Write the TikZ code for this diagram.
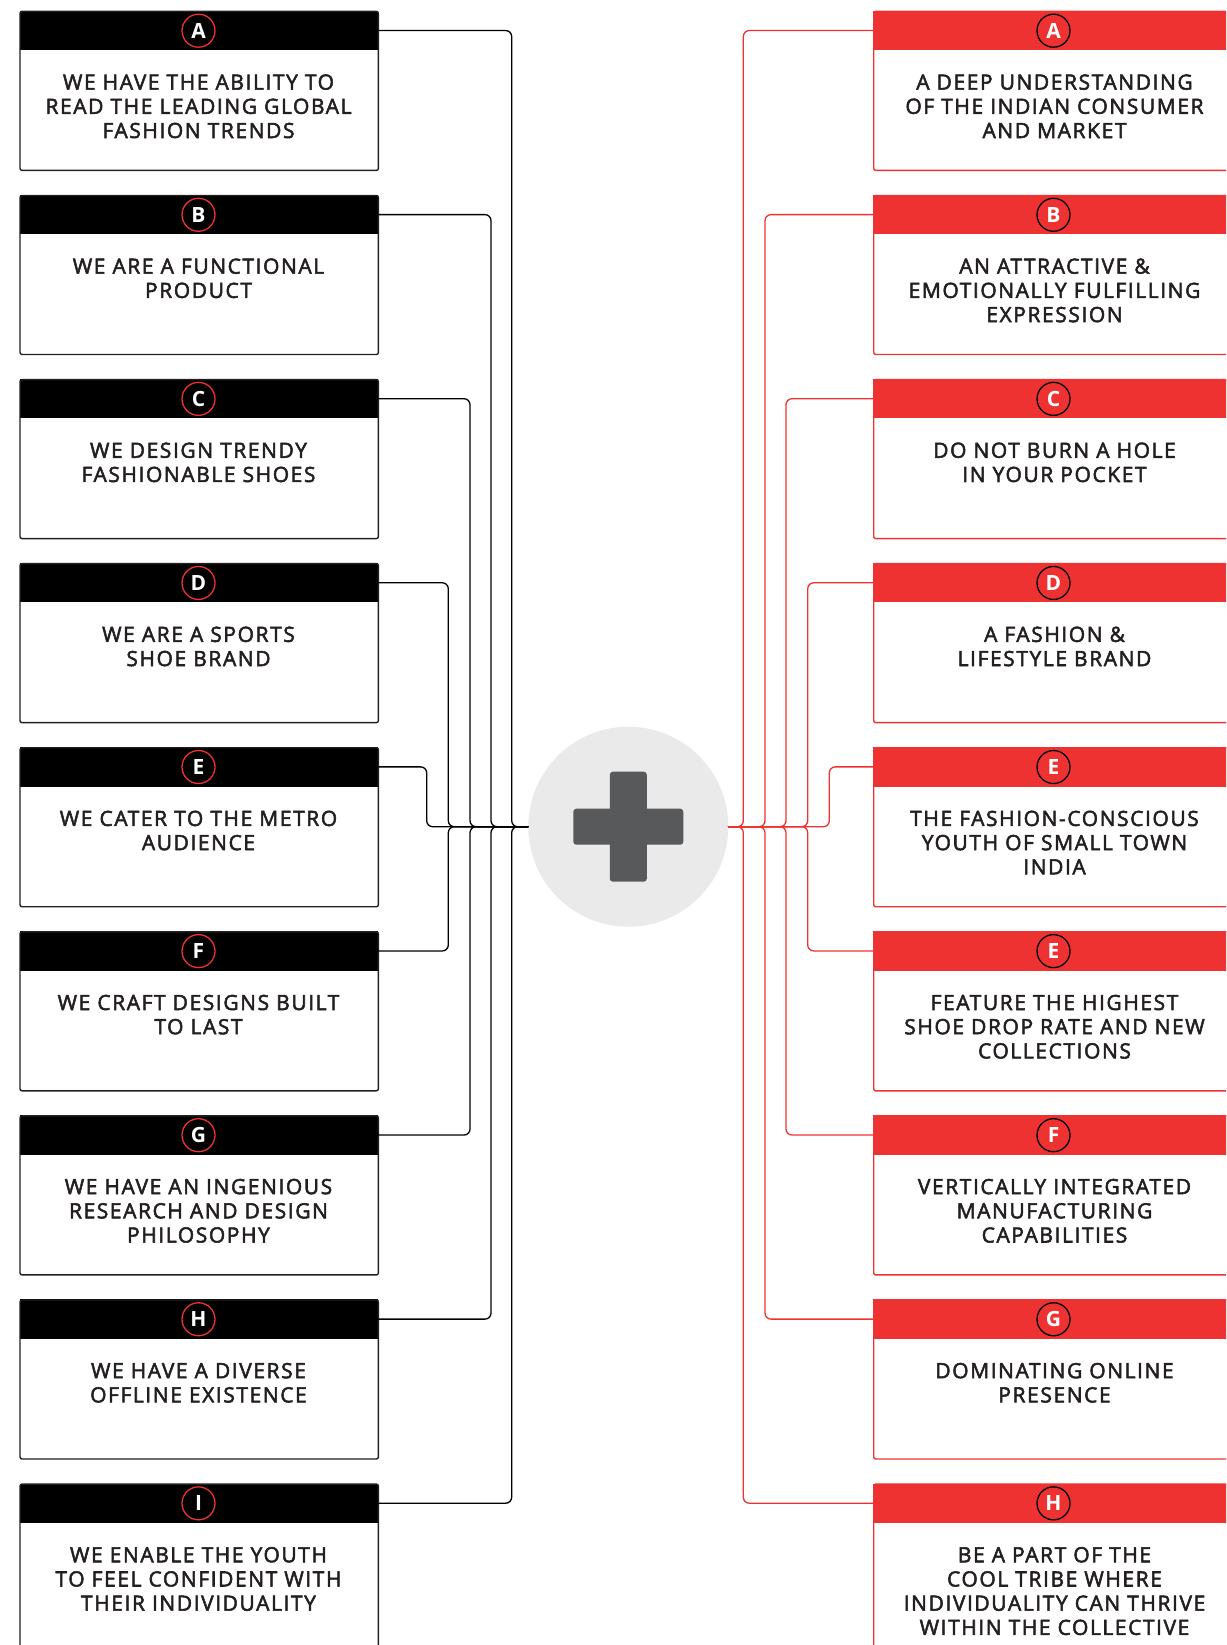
\documentclass[tikz,border=0pt]{standalone}
\usepackage{fontspec}
\setmainfont{Open Sans}
\newfontfamily\cardfont{Open Sans}[LetterSpace=7.5,FakeBold=2.5]
\definecolor{brandred}{HTML}{EE3231}
\definecolor{inkdark}{HTML}{231F20}
\definecolor{hubgray}{HTML}{EAEAEA}
\definecolor{plusgray}{HTML}{58595B}
\begin{document}
\begin{tikzpicture}[x=1pt,y=-1pt,line join=round,line cap=round,
    head/.style={rectangle,minimum width=358.4pt,minimum height=39.3pt,inner sep=0pt,anchor=north west},
    card/.style={rectangle,line width=1.4pt,rounded corners=2pt,minimum width=358.4pt,inner sep=0pt,anchor=north west},
    badge/.style={circle,line width=1.3pt,minimum size=33pt,inner sep=0pt,text=white,font=\bfseries\fontsize{21}{21}\selectfont},
    txt/.style={anchor=north,align=center,inner sep=0pt,text=inkdark,font=\cardfont\fontsize{21}{24.2}\selectfont},
    wire/.style={line width=1.3pt,rounded corners=6pt}]
    \useasboundingbox (0,0) rectangle (1226,1645);
    \clip (0,0) rectangle (1226,1645);
    %centre
    \node[circle,fill=hubgray,minimum size=200pt,inner sep=0pt] (hub) at (628.3,826.7) {};
    \node[rectangle,fill=plusgray,rounded corners=3pt,minimum width=110pt,minimum height=36pt] (plush) at (hub) {};
    \node[rectangle,fill=plusgray,rounded corners=3pt,minimum width=37pt,minimum height=110pt] (plusv) at (hub) {};
    %left column
    \foreach \i/\l/\xv/\t in {0/A/511.7/{WE HAVE THE ABILITY TO\\READ THE LEADING GLOBAL\\FASHION TRENDS},
        1/B/491/{WE ARE A FUNCTIONAL\\PRODUCT},
        2/C/470/{WE DESIGN TRENDY\\FASHIONABLE SHOES},
        3/D/448.3/{WE ARE A SPORTS\\SHOE BRAND},
        4/E/426.7/{WE CATER TO THE METRO\\AUDIENCE},
        5/F/448.3/{WE CRAFT DESIGNS BUILT\\TO LAST},
        6/G/470/{WE HAVE AN INGENIOUS\\RESEARCH AND DESIGN\\PHILOSOPHY},
        7/H/491/{WE HAVE A DIVERSE\\OFFLINE EXISTENCE},
        8/I/511.7/{WE ENABLE THE YOUTH\\TO FEEL CONFIDENT WITH\\THEIR INDIVIDUALITY}}{
        \pgfmathsetmacro\y{10.7+184.08*\i}
        \pgfmathsetmacro\h{\i==8 ? 190 : 159}
        \node[head,fill=black] (lh\i) at (19.3,\y) {};
        \node[card,draw=inkdark,minimum height=\h pt] (lc\i) at (19.3,\y) {};
        \node[badge,draw=brandred] (lb\i) at (198.5,\y+20) {\l};
        \node[txt] (lt\i) at (198.5,\y+63.5) {\t};
        \draw[wire,black] (lh\i.east) -| (\xv,826.7) -- (hub.west);
    }
    %right column
    \foreach \i/\l/\xv/\t in {0/A/743.3/{A DEEP UNDERSTANDING\\OF THE INDIAN CONSUMER\\AND MARKET},
        1/B/765/{AN ATTRACTIVE \&\\EMOTIONALLY FULFILLING\\EXPRESSION},
        2/C/786/{DO NOT BURN A HOLE\\IN YOUR POCKET},
        3/D/807.7/{A FASHION \&\\LIFESTYLE BRAND},
        4/E/829.3/{THE FASHION-CONSCIOUS\\YOUTH OF SMALL TOWN\\INDIA},
        5/E/807.7/{FEATURE THE HIGHEST\\SHOE DROP RATE AND NEW\\COLLECTIONS},
        6/F/786/{VERTICALLY INTEGRATED\\MANUFACTURING\\CAPABILITIES},
        7/G/765/{DOMINATING ONLINE\\PRESENCE},
        8/H/743.3/{BE A PART OF THE\\COOL TRIBE WHERE\\INDIVIDUALITY CAN THRIVE\\WITHIN THE COLLECTIVE}}{
        \pgfmathsetmacro\y{10.7+184.08*\i}
        \pgfmathsetmacro\h{\i==8 ? 190 : 159}
        \node[head,fill=brandred] (rh\i) at (873,\y) {};
        \node[card,draw=brandred,minimum height=\h pt] (rc\i) at (873,\y) {};
        \node[badge,draw=black] (rb\i) at (1053.5,\y+20) {\l};
        \node[txt] (rt\i) at (1054.5,\y+63.5) {\t};
        \draw[wire,brandred] (rh\i.west) -| (\xv,826.7) -- (hub.east);
    }
\end{tikzpicture}
\end{document}
